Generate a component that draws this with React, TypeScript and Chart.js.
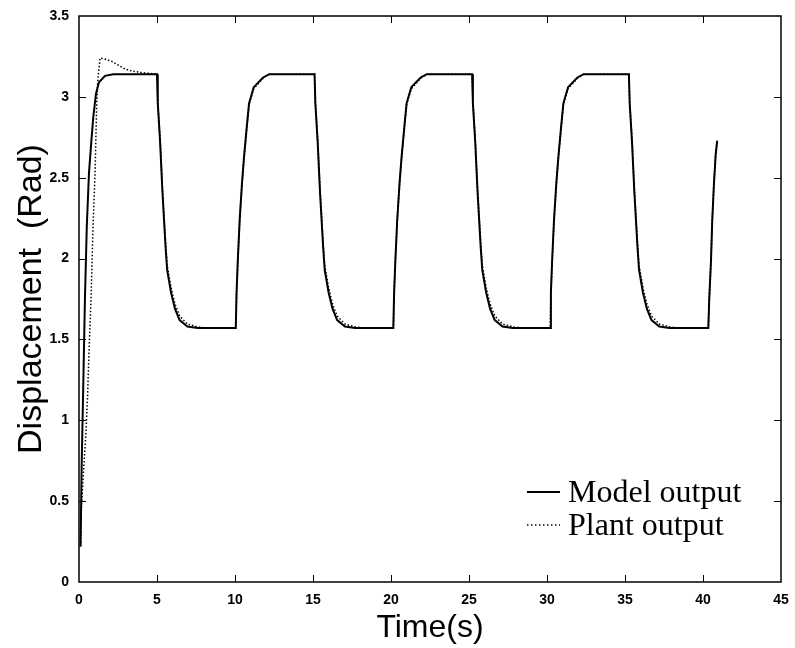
import React, { useEffect, useRef } from "react";
import { Chart, registerables } from "chart.js";

Chart.register(...registerables);

// Model output (solid) – time (s) and displacement (rad)
const modelTime = [
  0.1, 0.17, 0.28, 0.38, 0.5, 0.64, 0.81, 0.92, 1.09, 1.28, 1.67, 2.2,
  5.0, 5.05, 5.2, 5.35, 5.55, 5.65, 5.9, 6.15, 6.45, 6.95, 7.6,
  10.05, 10.1, 10.18, 10.3, 10.45, 10.58, 10.75, 10.9, 11.2, 11.8, 12.2,
  15.1, 15.15, 15.3, 15.45, 15.65, 15.75, 16.0, 16.25, 16.55, 17.05, 17.7,
  20.15, 20.2, 20.28, 20.4, 20.55, 20.68, 20.85, 21.0, 21.3, 21.9, 22.3,
  25.2, 25.25, 25.4, 25.55, 25.75, 25.85, 26.1, 26.35, 26.65, 27.15, 27.8,
  30.2, 30.25, 30.33, 30.45, 30.6, 30.73, 30.9, 31.05, 31.35, 31.95, 32.35,
  35.25, 35.3, 35.45, 35.6, 35.8, 35.9, 36.15, 36.4, 36.7, 37.2, 37.85,
  40.34, 40.4, 40.51, 40.59, 40.7, 40.81, 40.91,
];
const modelValue = [
  0.22, 0.72, 1.25, 1.75, 2.2, 2.53, 2.75, 2.88, 3.02, 3.09, 3.13, 3.14,
  3.14, 2.96, 2.72, 2.41, 2.07, 1.93, 1.79, 1.69, 1.62, 1.58, 1.57,
  1.57, 1.79, 1.99, 2.24, 2.47, 2.63, 2.81, 2.96, 3.06, 3.12, 3.14,
  3.14, 2.96, 2.72, 2.41, 2.07, 1.93, 1.79, 1.69, 1.62, 1.58, 1.57,
  1.57, 1.79, 1.99, 2.24, 2.47, 2.63, 2.81, 2.96, 3.06, 3.12, 3.14,
  3.14, 2.96, 2.72, 2.41, 2.07, 1.93, 1.79, 1.69, 1.62, 1.58, 1.57,
  1.57, 1.79, 1.99, 2.24, 2.47, 2.63, 2.81, 2.96, 3.06, 3.12, 3.14,
  3.14, 2.96, 2.72, 2.41, 2.07, 1.93, 1.79, 1.69, 1.62, 1.58, 1.57,
  1.57, 1.75, 1.98, 2.23, 2.46, 2.64, 2.73,
];

// Plant output (dotted)
const plantTime = [
  0.1, 0.15, 0.3, 0.45, 0.55, 0.64, 0.77, 0.9, 1.03, 1.13, 1.2, 1.35, 1.6, 2.09, 2.63, 3.0, 3.38, 4.0,
  5.0, 5.05, 5.2, 5.35, 5.55, 5.65, 5.9, 6.15, 6.45, 6.95, 7.6, 8.2,
  10.05, 10.1, 10.18, 10.3, 10.45, 10.58, 10.75, 10.9, 11.2, 11.8, 12.2,
  15.1, 15.15, 15.3, 15.45, 15.65, 15.75, 16.0, 16.25, 16.55, 17.05, 17.7, 18.3,
  20.15, 20.2, 20.28, 20.4, 20.55, 20.68, 20.85, 21.0, 21.3, 21.9, 22.3,
  25.2, 25.25, 25.4, 25.55, 25.75, 25.85, 26.1, 26.35, 26.65, 27.15, 27.8, 28.4,
  30.2, 30.25, 30.33, 30.45, 30.6, 30.73, 30.9, 31.05, 31.35, 31.95, 32.35,
  35.25, 35.3, 35.45, 35.6, 35.8, 35.9, 36.15, 36.4, 36.7, 37.2, 37.85, 38.5,
  40.34, 40.4, 40.51, 40.59, 40.7, 40.81, 40.91,
];
const plantValue = [
  0.22, 0.45, 0.7, 0.93, 1.15, 1.42, 1.75, 2.2, 2.53, 2.94, 3.1, 3.24, 3.235, 3.22, 3.19, 3.17, 3.16, 3.15,
  3.14, 2.97, 2.74, 2.43, 2.1, 1.96, 1.82, 1.72, 1.645, 1.595, 1.578, 1.57,
  1.57, 1.78, 1.98, 2.23, 2.46, 2.62, 2.8, 2.95, 3.05, 3.115, 3.14,
  3.14, 2.97, 2.74, 2.43, 2.1, 1.96, 1.82, 1.72, 1.645, 1.595, 1.578, 1.57,
  1.57, 1.78, 1.98, 2.23, 2.46, 2.62, 2.8, 2.95, 3.05, 3.115, 3.14,
  3.14, 2.97, 2.74, 2.43, 2.1, 1.96, 1.82, 1.72, 1.645, 1.595, 1.578, 1.57,
  1.57, 1.78, 1.98, 2.23, 2.46, 2.62, 2.8, 2.95, 3.05, 3.115, 3.14,
  3.14, 2.97, 2.74, 2.43, 2.1, 1.96, 1.82, 1.72, 1.645, 1.595, 1.578, 1.57,
  1.57, 1.75, 1.98, 2.23, 2.46, 2.64, 2.73,
];

const xTicks = [0, 5, 10, 15, 20, 25, 30, 35, 40, 45];
const yTicks = [0, 0.5, 1, 1.5, 2, 2.5, 3, 3.5];
const seriesNames = ["Model output", "Plant output"];
const xTitle = "Time(s)";
const yTitle = "Displacement  (Rad)";

export default function App() {
  const ref = useRef<HTMLCanvasElement>(null);

  useEffect(() => {
    if (!ref.current) return;

    const framePlugin = {
      id: "frameTicksLegend",
      afterDatasetsDraw(chart: any) {
        const { ctx, chartArea, scales } = chart;
        const { left, right, top, bottom } = chartArea;
        const x = scales.x;
        const y = scales.y;
        ctx.save();
        ctx.strokeStyle = "#000";
        ctx.lineWidth = 1.5;
        ctx.strokeRect(left, top, right - left, bottom - top);
        ctx.lineWidth = 1;
        ctx.beginPath();
        const tl = 7;
        for (const v of xTicks) {
          if (v <= x.min || v >= x.max) continue;
          const px = Math.round(x.getPixelForValue(v)) + 0.5;
          ctx.moveTo(px, bottom);
          ctx.lineTo(px, bottom - tl);
          ctx.moveTo(px, top);
          ctx.lineTo(px, top + tl);
        }
        for (const v of yTicks) {
          if (v <= y.min || v >= y.max) continue;
          const py = Math.round(y.getPixelForValue(v)) + 0.5;
          ctx.moveTo(left, py);
          ctx.lineTo(left + tl, py);
          ctx.moveTo(right, py);
          ctx.lineTo(right - tl, py);
        }
        ctx.stroke();

        // legend
        const lx0 = right - 254;
        const lx1 = right - 221;
        const tx = right - 213;
        const rows = [bottom - 90, bottom - 57];
        ctx.strokeStyle = "#000";
        ctx.lineWidth = 2.2;
        ctx.setLineDash([]);
        ctx.beginPath();
        ctx.moveTo(lx0, rows[0]);
        ctx.lineTo(lx1, rows[0]);
        ctx.stroke();
        ctx.lineWidth = 1.5;
        ctx.setLineDash([1.5, 2.5]);
        ctx.beginPath();
        ctx.moveTo(lx0, rows[1]);
        ctx.lineTo(lx1, rows[1]);
        ctx.stroke();
        ctx.setLineDash([]);
        ctx.fillStyle = "#000";
        ctx.font = '32px "Liberation Serif", "Times New Roman", serif';
        ctx.textBaseline = "alphabetic";
        ctx.textAlign = "left";
        ctx.fillText(seriesNames[0], tx, rows[0] + 10);
        ctx.fillText(seriesNames[1], tx, rows[1] + 10);
        ctx.restore();
      },
    };

    const tickFont = { family: '"Liberation Sans Narrow", "Liberation Sans", Arial, sans-serif', size: 14, weight: "bold" as const };

    const chart = new Chart(ref.current, {
      type: "line",
      data: {
        datasets: [
          {
            label: seriesNames[1],
            data: plantTime.map((t, i) => ({ x: t, y: plantValue[i] })),
            borderColor: "#000",
            borderWidth: 1.5,
            borderDash: [1.5, 2],
            pointRadius: 0,
            tension: 0,
            fill: false,
          },
          {
            label: seriesNames[0],
            data: modelTime.map((t, i) => ({ x: t, y: modelValue[i] })),
            borderColor: "#000",
            borderWidth: 2,
            pointRadius: 0,
            tension: 0,
            fill: false,
          },
        ],
      },
      options: {
        animation: false,
        responsive: false,
        devicePixelRatio: 1,
        layout: { padding: { top: 16, right: 14, left: 0, bottom: 0 } },
        plugins: { legend: { display: false }, tooltip: { enabled: false } },
        scales: {
          x: {
            type: "linear",
            min: 0,
            max: 45,
            afterBuildTicks: (s: any) => {
              s.ticks = xTicks.map((v) => ({ value: v }));
            },
            afterFit: (s: any) => {
              s.height = 66;
            },
            grid: { display: false },
            border: { display: false },
            ticks: {
              padding: 2,
              color: "#000",
              maxRotation: 0,
              font: tickFont,
              callback: (v: any) => String(v),
            },
            title: {
              display: true,
              text: xTitle,
              color: "#000",
              padding: { bottom: 1, top: 0 },
              font: { family: '"Liberation Sans", Arial, sans-serif', size: 32 },
            },
          },
          y: {
            type: "linear",
            min: 0,
            max: 3.5,
            afterBuildTicks: (s: any) => {
              s.ticks = yTicks.map((v) => ({ value: v }));
            },
            afterFit: (s: any) => {
              s.width = 79;
            },
            grid: { display: false },
            border: { display: false },
            ticks: {
              padding: 2,
              color: "#000",
              font: tickFont,
              callback: (v: any) => String(v),
            },
            title: {
              display: true,
              text: yTitle,
              color: "#000",
              padding: { top: 11, bottom: 0 },
              font: { family: '"Liberation Sans", Arial, sans-serif', size: 34 },
            },
          },
        },
      },
      plugins: [framePlugin],
    });

    return () => chart.destroy();
  }, []);

  return (
    <div style={{ position: "absolute", left: 0, top: 0, width: 795, height: 648, background: "#fff" }}>
      <canvas ref={ref} width={795} height={648} style={{ display: "block" }} />
    </div>
  );
}
